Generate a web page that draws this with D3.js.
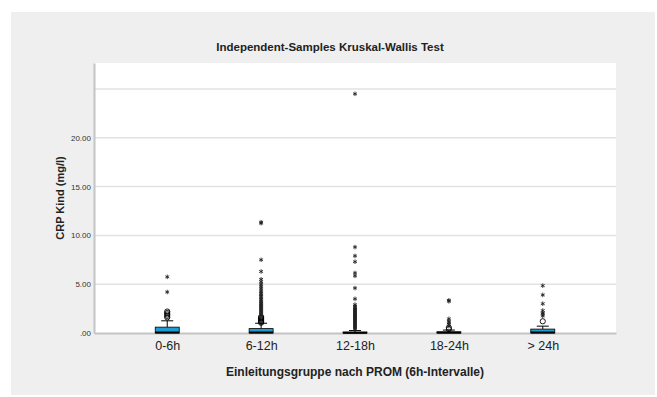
<!DOCTYPE html>
<html>
<head>
<meta charset="utf-8">
<script src="https://d3js.org/d3.v7.min.js"></script>
<style>
  body { margin: 0; background: #fff; }
  text { font-family: "Liberation Sans", Arial, sans-serif; }
</style>
</head>
<body>
<div id="my_dataviz"></div>
<script>

// groups on the x axis
var groups = ["0-6h", "6-12h", "12-18h", "18-24h", "> 24h"];

// box statistics per group (mg/l)
var q1      = [0.00, 0.00, 0.00, 0.00, 0.00];
var medians = [0.05, 0.05, 0.02, 0.04, 0.05];
var q3      = [0.60, 0.45, 0.10, 0.12, 0.40];
var whiskHi = [1.25, 1.00, 0.25, 0.30, 0.70];

// outliers (circles) and extreme values (stars)
var outliers = [
  [1.60, 1.75, 1.90, 2.05, 2.20],
  [1.05, 1.15, 1.25, 1.35, 1.45, 1.55, 1.65],
  [],
  [0.40, 0.55],
  [1.20]
];
var extremes = [
  [4.20, 5.75],
  [1.85, 1.95, 2.05, 2.15, 2.25, 2.35, 2.45, 2.55, 2.65, 2.75, 2.85, 2.95, 3.05,
   3.20, 3.30, 3.45, 3.60, 3.75, 3.90, 4.05, 4.20, 4.40, 4.60, 4.80, 5.00, 5.25,
   5.50, 6.30, 7.50, 11.25, 11.35],
  [0.40, 0.50, 0.60, 0.70, 0.80, 0.90, 1.00, 1.10, 1.20, 1.30, 1.40, 1.50, 1.60,
   1.70, 1.80, 1.90, 2.00, 2.10, 2.20, 2.30, 2.40, 2.50, 2.60, 2.75, 2.90, 3.50,
   4.60, 5.85, 6.15, 7.30, 7.90, 8.80, 24.50],
  [0.70, 0.90, 1.05, 1.20, 1.45, 3.25, 3.35],
  [1.75, 1.95, 2.05, 2.30, 3.00, 3.90, 4.85]
];

var yTicks = [0, 5, 10, 15, 20];
var gridVals = [5, 10, 15, 20, 25];

var W = 657, H = 397;
var plot = {left: 94, right: 616, top: 63, bottom: 333};

var svg = d3.select("#my_dataviz")
  .append("svg")
    .attr("width", W)
    .attr("height", H);

// grey panel
svg.append("rect")
  .attr("x", 11).attr("y", 12)
  .attr("width", W - 13).attr("height", H - 14)
  .attr("fill", "#efefef");

// plot area
svg.append("rect")
  .attr("x", plot.left).attr("y", plot.top)
  .attr("width", plot.right - plot.left).attr("height", plot.bottom - plot.top)
  .attr("fill", "#ffffff");

var x = d3.scalePoint()
  .domain(groups)
  .range([plot.left, plot.right])
  .padding(0.78);

var y = d3.scaleLinear()
  .domain([0, 27.66])
  .range([plot.bottom, plot.top]);

// gridlines
svg.append("g")
  .selectAll("line")
  .data(gridVals)
  .enter().append("line")
    .attr("x1", plot.left).attr("x2", plot.right)
    .attr("y1", function(d) { return y(d); })
    .attr("y2", function(d) { return y(d); })
    .attr("stroke", "#e2e2e2")
    .attr("stroke-width", 1.5);

// y axis
var yAxis = svg.append("g")
  .attr("transform", "translate(" + plot.left + ",0)")
  .call(d3.axisLeft(y).tickValues(yTicks).tickSize(0).tickPadding(3)
    .tickFormat(function(d) { return d === 0 ? ".00" : d3.format(".2f")(d); }));
yAxis.select(".domain").attr("stroke", "#c4c4c4").attr("stroke-width", 2);
yAxis.selectAll("text").style("font-size", "8px").attr("fill", "#333");

// x axis
var xAxis = svg.append("g")
  .attr("transform", "translate(0," + plot.bottom + ")")
  .call(d3.axisBottom(x).tickSize(0).tickPadding(8));
xAxis.select(".domain").attr("stroke", "#c4c4c4").attr("stroke-width", 2);
xAxis.selectAll("text").style("font-size", "12.5px").attr("fill", "#222");

// titles
svg.append("text")
  .attr("x", 330).attr("y", 51)
  .attr("text-anchor", "middle")
  .style("font-size", "11.5px").style("font-weight", "bold")
  .attr("fill", "#222")
  .text("Independent-Samples Kruskal-Wallis Test");

svg.append("text")
  .attr("x", (plot.left + plot.right) / 2).attr("y", 376)
  .attr("text-anchor", "middle")
  .style("font-size", "12px").style("font-weight", "bold")
  .attr("fill", "#222")
  .text("Einleitungsgruppe nach PROM (6h-Intervalle)");

svg.append("text")
  .attr("transform", "translate(64," + ((plot.top + plot.bottom) / 2) + ")rotate(-90)")
  .attr("text-anchor", "middle")
  .style("font-size", "11px").style("font-weight", "bold")
  .attr("fill", "#222")
  .text("CRP Kind (mg/l)");

var boxW = 24, capW = 12;
var idx = d3.range(groups.length);

// whiskers
var g = svg.append("g");
g.selectAll(".whisk")
  .data(idx).enter().append("line")
    .attr("x1", function(i) { return x(groups[i]); })
    .attr("x2", function(i) { return x(groups[i]); })
    .attr("y1", function(i) { return y(q3[i]); })
    .attr("y2", function(i) { return y(whiskHi[i]); })
    .attr("stroke", "#000").attr("stroke-width", 1);
g.selectAll(".cap")
  .data(idx).enter().append("line")
    .attr("x1", function(i) { return x(groups[i]) - capW / 2; })
    .attr("x2", function(i) { return x(groups[i]) + capW / 2; })
    .attr("y1", function(i) { return y(whiskHi[i]); })
    .attr("y2", function(i) { return y(whiskHi[i]); })
    .attr("stroke", "#000").attr("stroke-width", 1);

// boxes
g.selectAll(".box")
  .data(idx).enter().append("rect")
    .attr("x", function(i) { return x(groups[i]) - boxW / 2; })
    .attr("y", function(i) { return y(q3[i]); })
    .attr("width", boxW)
    .attr("height", function(i) { return y(q1[i]) - y(q3[i]); })
    .attr("fill", "#1e9bd0")
    .attr("stroke", "#000").attr("stroke-width", 0.8);

// medians
g.selectAll(".med")
  .data(idx).enter().append("line")
    .attr("x1", function(i) { return x(groups[i]) - boxW / 2; })
    .attr("x2", function(i) { return x(groups[i]) + boxW / 2; })
    .attr("y1", function(i) { return y(medians[i]); })
    .attr("y2", function(i) { return y(medians[i]); })
    .attr("stroke", "#000").attr("stroke-width", 2);

// outliers (open circles)
var outPts = [];
outliers.forEach(function(arr, i) { arr.forEach(function(v) { outPts.push({g: groups[i], v: v}); }); });
g.selectAll(".out")
  .data(outPts).enter().append("circle")
    .attr("cx", function(d) { return x(d.g); })
    .attr("cy", function(d) { return y(d.v); })
    .attr("r", 2.6)
    .attr("fill", "none")
    .attr("stroke", "#000").attr("stroke-width", 0.9);

// extremes (stars)
var extPts = [];
extremes.forEach(function(arr, i) { arr.forEach(function(v) { extPts.push({g: groups[i], v: v}); }); });
g.selectAll(".ext")
  .data(extPts).enter().append("path")
    .attr("transform", function(d) { return "translate(" + x(d.g) + "," + y(d.v) + ")"; })
    .attr("d", d3.symbol().type(d3.symbolAsterisk).size(14))
    .attr("fill", "none")
    .attr("stroke", "#222").attr("stroke-width", 0.9);

</script>
</body>
</html>
